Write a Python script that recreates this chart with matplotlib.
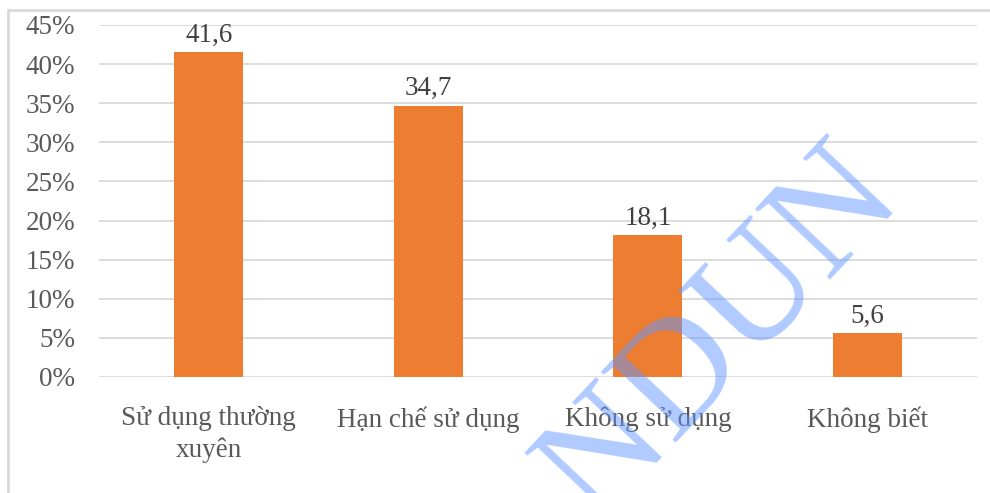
import matplotlib
matplotlib.use("Agg")
import matplotlib.pyplot as plt
from matplotlib.patches import Rectangle
from matplotlib.ticker import FuncFormatter, MultipleLocator

categories = ["Sử dụng thường\nxuyên", "Hạn chế sử dụng", "Không sử dụng", "Không biết"]
values = [41.6, 34.7, 18.1, 5.6]
y_max = 45
y_step = 5

plt.rcParams["font.family"] = ["Liberation Serif", "DejaVu Serif"]

fig = plt.figure(figsize=(9.9, 4.93), dpi=100)
ax = fig.add_axes([0.1, 0.2353, 0.887, 0.714])

# outer chart frame (left and top edges visible)
fig.patches.append(Rectangle((8 / 990, -0.1), 1.2, 1.1 - 10 / 493,
                             transform=fig.transFigure, fill=False,
                             edgecolor="#D9D9D9", linewidth=2.0, zorder=0))

x = range(len(categories))
bars = ax.bar(x, values, width=0.315, color="#ED7D31", zorder=3)

for b, v in zip(bars, values):
    ax.annotate(f"{v:.1f}".replace(".", ","),
                (b.get_x() + b.get_width() / 2, v),
                xytext=(0, 3), textcoords="offset points",
                ha="center", va="bottom", fontsize=19.5, color="#404040")

ax.set_xlim(-0.5, len(categories) - 0.5)
ax.set_ylim(0, y_max)
ax.yaxis.set_major_locator(MultipleLocator(y_step))
ax.yaxis.set_major_formatter(FuncFormatter(lambda v, p: f"{int(round(v))}%"))
ax.grid(axis="y", color="#D9D9D9", linewidth=1.3, zorder=0)
ax.set_axisbelow(True)
for s in ax.spines.values():
    s.set_visible(False)
ax.tick_params(axis="y", length=0, pad=17, labelsize=19.5, labelcolor="#595959")
ax.tick_params(axis="x", length=0, pad=21, labelsize=19.5, labelcolor="#595959")
ax.set_xticks(list(x))
ax.set_xticklabels(categories, linespacing=1.3)

# translucent diagonal watermark
fig.text(0.601, -0.063, "NDUN", fontsize=112, color=(0.39, 0.59, 1.0), alpha=0.5,
         rotation=46.6, rotation_mode="anchor", ha="left", va="baseline",
         family="Liberation Serif", zorder=10)

fig.savefig("out.png", dpi=100)
